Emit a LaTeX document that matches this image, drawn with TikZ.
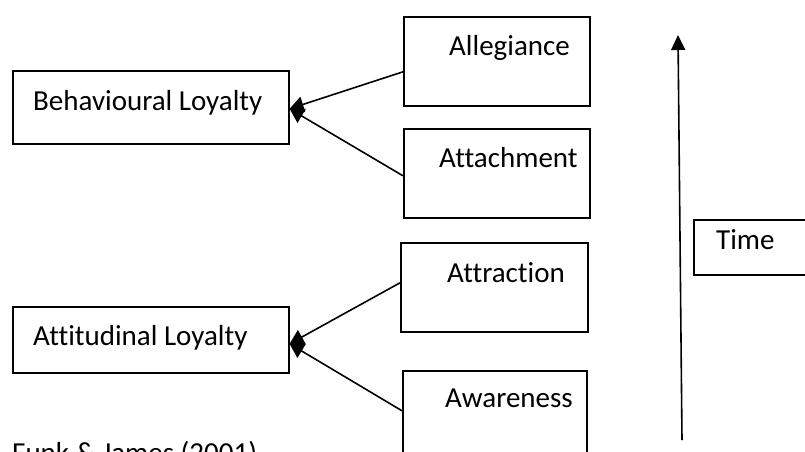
\documentclass[tikz,border=0pt]{standalone}
\usepackage{fontspec}
\setmainfont[Ligatures=NoCommon]{Carlito}
\usetikzlibrary{arrows.meta}
\begin{document}
\begin{tikzpicture}[x=1pt,y=-1pt,
  box/.style={draw=black,line width=1.6pt,rectangle,inner sep=0pt,anchor=north west},
  txt/.style={inner sep=0pt,anchor=base west,font=\fontsize{29}{35}\selectfont},
  feed/.style={line width=1.6pt,-{Triangle[length=14pt,width=16pt]}},
  timeline/.style={line width=1.6pt,-{Triangle[length=15pt,width=14pt]}}]
\useasboundingbox (0,0) rectangle (805,451);

% loyalty boxes on the left
\node[box,minimum width=276pt,minimum height=73pt] (beh) at (12,70) {};
\node[txt] (behT) at (33,110) {Behavioural Loyalty};
\node[box,minimum width=276pt,minimum height=66pt] (att) at (12,306) {};
\node[txt] (attT) at (33,345) {Attitudinal Loyalty};

% stage boxes on the right
\node[box,minimum width=186pt,minimum height=89pt] (alg) at (403,16) {};
\node[txt] (algT) at (449,55) {Allegiance};
\node[box,minimum width=186pt,minimum height=89pt] (ach) at (403,128) {};
\node[txt] (achT) at (439,167) {Attachment};
\node[box,minimum width=187pt,minimum height=89pt] (atr) at (400,242) {};
\node[txt] (atrT) at (447,282) {Attraction};
\node[box,minimum width=184pt,minimum height=89pt] (awr) at (402,370) {};
\node[txt] (awrT) at (445,407) {Awareness};

% time axis
\node[box,minimum width=112pt,minimum height=55pt] (time) at (693,219) {};
\node[txt] (timeT) at (716,249) {Time};
\coordinate (t0) at (682,440);
\coordinate (t1) at (678,35);
\draw[timeline] (t0) -- (t1);

% source line
\node[txt] (src) at (12,462) {Funk \& James (2001)};

% connectors
\draw[feed] ([yshift=-10.5pt]alg.west) -- ([yshift=-1.5pt]beh.east);
\draw[feed] ([yshift=-2.5pt]ach.west) -- ([yshift=-1.5pt]beh.east);
\draw[feed] ([yshift=4.5pt]atr.west) -- ([yshift=-4pt]att.east);
\draw[feed] ([yshift=4.5pt]awr.west) -- ([yshift=-4pt]att.east);
\end{tikzpicture}
\end{document}
